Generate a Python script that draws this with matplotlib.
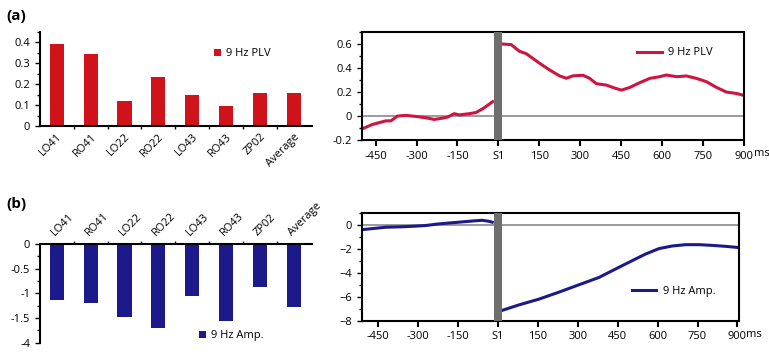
import numpy as np
import matplotlib
matplotlib.use("Agg")
import matplotlib.pyplot as plt
from matplotlib.ticker import MultipleLocator, FixedLocator

plt.rcParams['font.family'] = ['Open Sans', 'DejaVu Sans']
plt.rcParams['font.size'] = 8

# data
channels = ['LO41', 'RO41', 'LO22', 'RO22', 'LO43', 'RO43', 'ZP02', 'Average']
plv_bars = [0.395, 0.345, 0.12, 0.235, 0.15, 0.097, 0.157, 0.157]
amp_bars = [-1.14, -1.20, -1.47, -1.69, -1.06, -1.55, -0.87, -1.28]
amp_ytick_vals = [0, -0.5, -1, -1.5, -2]
amp_ytick_labels = ['0', '-0.5', '-1', '-1.5', '-4']

plv_pre_t = [-500, -462, -413, -394, -370, -339, -302, -266, -235, -204, -186, -162,
             -143, -106, -82, -58, -33, -21]
plv_pre_v = [-0.107, -0.07, -0.04, -0.04, 0.0, 0.006, -0.003, -0.014, -0.028, -0.017,
             -0.008, 0.02, 0.01, 0.02, 0.03, 0.06, 0.10, 0.12]
plv_post_t = [16, 47, 77, 102, 151, 187, 224, 249, 273, 310, 334, 359, 396, 420, 451,
              481, 518, 555, 591, 616, 653, 689, 726, 763, 800, 836, 873, 897]
plv_post_v = [0.60, 0.595, 0.54, 0.52, 0.44, 0.385, 0.335, 0.315, 0.335, 0.34, 0.315,
              0.27, 0.258, 0.238, 0.216, 0.238, 0.278, 0.314, 0.328, 0.342, 0.328, 0.334,
              0.314, 0.286, 0.238, 0.20, 0.188, 0.174]

amp_pre_t = [-510, -422, -347, -272, -222, -147, -96, -59, -34, -21]
amp_pre_v = [-0.42, -0.22, -0.17, -0.08, 0.06, 0.20, 0.30, 0.36, 0.28, 0.20]
amp_post_t = [14, 79, 154, 229, 305, 380, 442, 505, 555, 605, 655, 706, 756, 806, 856, 900]
amp_post_v = [-7.16, -6.69, -6.21, -5.63, -5.01, -4.40, -3.70, -3.00, -2.45, -2.00,
              -1.78, -1.67, -1.67, -1.73, -1.81, -1.90]

time_ticks = [-450, -300, -150, 0, 150, 300, 450, 600, 750, 900]
time_labels = ['-450', '-300', '-150', 'S1', '150', '300', '450', '600', '750', '900']

red_bar = '#d0121b'
red_line = '#d01440'
navy = '#1c1a8a'
gray_bar = '#6e6e6e'

fig = plt.figure(figsize=(7.69, 3.52), dpi=100)

ax1 = fig.add_axes([0.052, 0.642, 0.354, 0.267])
ax2 = fig.add_axes([0.4707, 0.602, 0.4967, 0.307])
ax3 = fig.add_axes([0.052, 0.026, 0.354, 0.281])
ax4 = fig.add_axes([0.4707, 0.089, 0.490, 0.307])

x = np.arange(len(channels))

# (a) bars
ax1.bar(x, plv_bars, width=0.42, color=red_bar, label='9 Hz PLV')
ax1.set_xlim(-0.5, 7.55)
ax1.set_ylim(0, 0.45)
ax1.set_yticks([0, 0.1, 0.2, 0.3, 0.4])
ax1.set_yticklabels(['0', '0.1', '0.2', '0.3', '0.4'])
ax1.yaxis.set_minor_locator(MultipleLocator(0.05))
ax1.set_xticks(x)
ax1.set_xticklabels(channels, rotation=45, ha='right', rotation_mode='anchor')
ax1.tick_params(axis='x', length=0, pad=4)
ax1.xaxis.set_minor_locator(FixedLocator(x[:-1] + 0.5))
ax1.tick_params(axis='x', which='minor', length=2.5, width=1)
ax1.tick_params(axis='y', which='major', length=3.5, width=1)
ax1.tick_params(axis='y', which='minor', length=2, width=1)
for s in ['top', 'right']:
    ax1.spines[s].set_visible(False)
for s in ['left', 'bottom']:
    ax1.spines[s].set_linewidth(1.5)
ax1.legend(loc='upper right', bbox_to_anchor=(0.885, 0.935), frameon=False,
           handlelength=0.6, handleheight=0.6, handletextpad=0.5, fontsize=8)

# (a) time course
ax2.axvspan(-15, 14, color=gray_bar, lw=0, zorder=3)
ax2.axhline(0, color='#8a8a8a', lw=1.2, zorder=1)
ax2.plot(plv_pre_t, plv_pre_v, color=red_line, lw=2.2, zorder=2, label='9 Hz PLV')
ax2.plot(plv_post_t, plv_post_v, color=red_line, lw=2.2, zorder=2)
ax2.set_xlim(-500, 900)
ax2.set_ylim(-0.2, 0.7)
ax2.set_yticks([-0.2, 0, 0.2, 0.4, 0.6])
ax2.set_yticklabels(['-0.2', '0', '0.2', '0.4', '0.6'])
ax2.yaxis.set_minor_locator(MultipleLocator(0.1))
ax2.set_xticks(time_ticks)
ax2.set_xticklabels(time_labels)
ax2.tick_params(axis='x', length=4, width=1.5)
ax2.tick_params(axis='y', which='major', length=3.5, width=1)
ax2.tick_params(axis='y', which='minor', length=2, width=1)
for s in ax2.spines.values():
    s.set_linewidth(1.5)
ax2.text(1.027, -0.128, 'ms', transform=ax2.transAxes, fontsize=8, va='center')
ax2.legend(loc='upper right', bbox_to_anchor=(0.945, 0.95), frameon=False,
           handlelength=2.2, handletextpad=0.6, fontsize=8)

# (b) bars
ax3.bar(x, amp_bars, width=0.42, color=navy, label='9 Hz Amp.')
ax3.set_xlim(-0.5, 7.55)
ax3.set_ylim(-2.0, 0)
ax3.set_yticks(amp_ytick_vals)
ax3.set_yticklabels(amp_ytick_labels)
ax3.yaxis.set_minor_locator(MultipleLocator(0.25))
ax3.xaxis.tick_top()
ax3.set_xticks(x)
ax3.set_xticklabels(channels, rotation=45, ha='left', rotation_mode='anchor')
ax3.tick_params(axis='x', which='major', length=0, pad=4)
ax3.xaxis.set_minor_locator(FixedLocator(x[:-1] + 0.5))
ax3.tick_params(axis='x', which='minor', length=2.5, width=1, top=True, bottom=False)
ax3.tick_params(axis='y', which='major', length=3.5, width=1)
ax3.tick_params(axis='y', which='minor', length=2, width=1)
for s in ['bottom', 'right']:
    ax3.spines[s].set_visible(False)
for s in ['left', 'top']:
    ax3.spines[s].set_linewidth(1.5)
ax3.legend(loc='lower right', bbox_to_anchor=(0.86, -0.085), frameon=False,
           handlelength=0.6, handleheight=0.6, handletextpad=0.5, fontsize=8)

# (b) time course
ax4.axvspan(-15, 14, color=gray_bar, lw=0, zorder=3)
ax4.axhline(0, color='#8a8a8a', lw=1.2, zorder=1)
ax4.plot(amp_pre_t, amp_pre_v, color=navy, lw=2.2, zorder=2, label='9 Hz Amp.')
ax4.plot(amp_post_t, amp_post_v, color=navy, lw=2.2, zorder=2)
ax4.set_xlim(-510, 905)
ax4.set_ylim(-8, 1)
ax4.set_yticks([-8, -6, -4, -2, 0])
ax4.yaxis.set_minor_locator(MultipleLocator(1))
ax4.set_xticks(time_ticks)
ax4.set_xticklabels(time_labels)
ax4.tick_params(axis='x', length=4, width=1.5)
ax4.tick_params(axis='y', which='major', length=3.5, width=1)
ax4.tick_params(axis='y', which='minor', length=2, width=1)
for s in ax4.spines.values():
    s.set_linewidth(1.5)
ax4.text(1.02, -0.128, 'ms', transform=ax4.transAxes, fontsize=8, va='center')
ax4.legend(loc='lower right', bbox_to_anchor=(0.965, 0.125), frameon=False,
           handlelength=2.2, handletextpad=0.6, fontsize=8)

fig.text(0.008, 0.975, '(a)', fontsize=11, fontweight='bold', va='top')
fig.text(0.008, 0.44, '(b)', fontsize=11, fontweight='bold', va='top')

fig.savefig('out.png', dpi=100)
